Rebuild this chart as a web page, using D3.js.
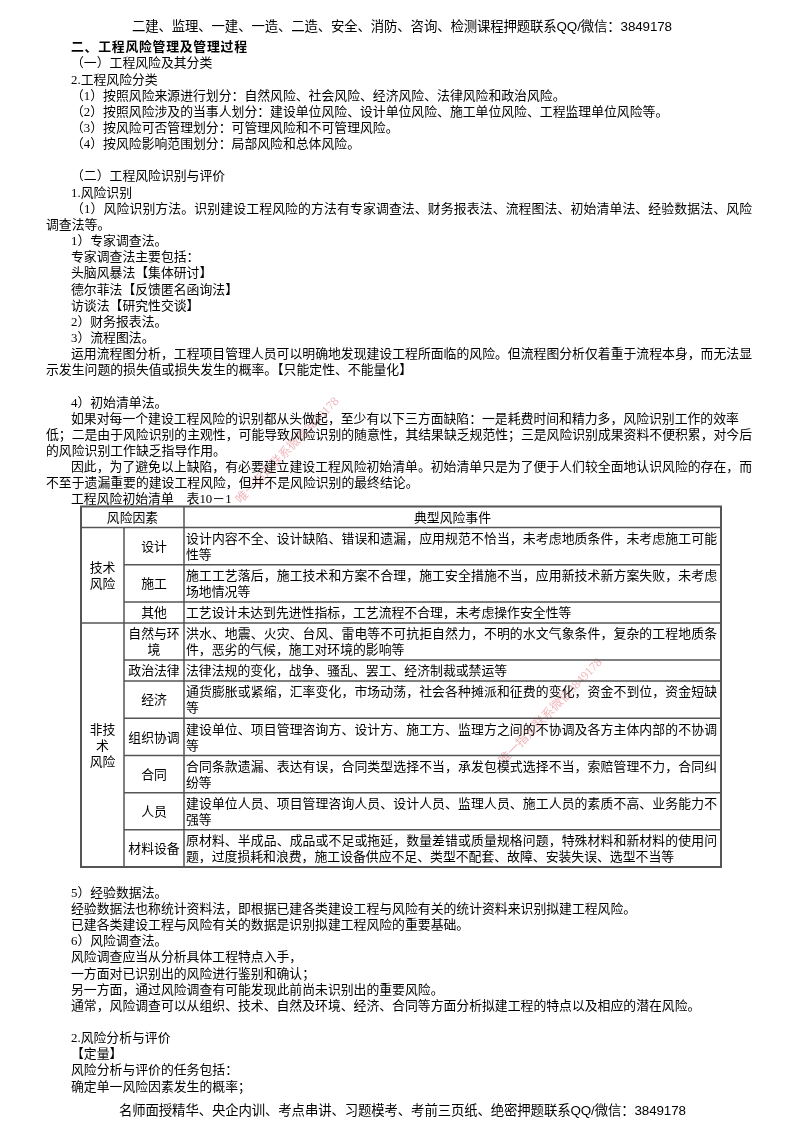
<!DOCTYPE html>
<html lang="zh-CN"><head><meta charset="utf-8">
<style>html,body{margin:0;padding:0;background:#fff}svg{display:block;filter:blur(.42px)}
text{font-family:"Liberation Serif","Noto Sans CJK SC",serif;fill:#000;font-size:12.85px}
.hd{font-family:"Liberation Sans","Noto Sans CJK SC",sans-serif;font-size:13.4px}</style>
<script src="https://cdn.jsdelivr.net/npm/d3@7/dist/d3.min.js"></script></head><body><script>
const headerText="二建、监理、一建、一造、二造、安全、消防、咨询、检测课程押题联系QQ/微信：3849178";
const footerText="名师面授精华、央企内训、考点串讲、习题模考、考前三页纸、绝密押题联系QQ/微信：3849178";
const upperLines=["二、工程风险管理及管理过程","（一）工程风险及其分类","2.工程风险分类","（1）按照风险来源进行划分：自然风险、社会风险、经济风险、法律风险和政治风险。","（2）按照风险涉及的当事人划分：建设单位风险、设计单位风险、施工单位风险、工程监理单位风险等。","（3）按风险可否管理划分：可管理风险和不可管理风险。","（4）按风险影响范围划分：局部风险和总体风险。","","（二）工程风险识别与评价","1.风险识别","（1）风险识别方法。识别建设工程风险的方法有专家调查法、财务报表法、流程图法、初始清单法、经验数据法、风险","调查法等。","1）专家调查法。","专家调查法主要包括：","头脑风暴法【集体研讨】","德尔菲法【反馈匿名函询法】","访谈法【研究性交谈】","2）财务报表法。","3）流程图法。","运用流程图分析，工程项目管理人员可以明确地发现建设工程所面临的风险。但流程图分析仅着重于流程本身，而无法显","示发生问题的损失值或损失发生的概率。【只能定性、不能量化】","","4）初始清单法。","如果对每一个建设工程风险的识别都从头做起，至少有以下三方面缺陷：一是耗费时间和精力多，风险识别工作的效率","低；二是由于风险识别的主观性，可能导致风险识别的随意性，其结果缺乏规范性；三是风险识别成果资料不便积累，对今后","的风险识别工作缺乏指导作用。","因此，为了避免以上缺陷，有必要建立建设工程风险初始清单。初始清单只是为了便于人们较全面地认识风险的存在，而","不至于遗漏重要的建设工程风险，但并不是风险识别的最终结论。","工程风险初始清单　表10－1"];
const lowerLines=["5）经验数据法。","经验数据法也称统计资料法，即根据已建各类建设工程与风险有关的统计资料来识别拟建工程风险。","已建各类建设工程与风险有关的数据是识别拟建工程风险的重要基础。","6）风险调查法。","风险调查应当从分析具体工程特点入手，","一方面对已识别出的风险进行鉴别和确认；","另一方面，通过风险调查有可能发现此前尚未识别出的重要风险。","通常，风险调查可以从组织、技术、自然及环境、经济、合同等方面分析拟建工程的特点以及相应的潜在风险。","","2.风险分析与评价","【定量】","风险分析与评价的任务包括：","确定单一风险因素发生的概率；"];
const flushLeft=new Set(["调查法等。","示发生问题的损失值或损失发生的概率。【只能定性、不能量化】","低；二是由于风险识别的主观性，可能导致风险识别的随意性，其结果缺乏规范性；三是风险识别成果资料不便积累，对今后","的风险识别工作缺乏指导作用。","不至于遗漏重要的建设工程风险，但并不是风险识别的最终结论。"]);
const justified=new Set(["（1）风险识别方法。识别建设工程风险的方法有专家调查法、财务报表法、流程图法、初始清单法、经验数据法、风险","运用流程图分析，工程项目管理人员可以明确地发现建设工程所面临的风险。但流程图分析仅着重于流程本身，而无法显","低；二是由于风险识别的主观性，可能导致风险识别的随意性，其结果缺乏规范性；三是风险识别成果资料不便积累，对今后","因此，为了避免以上缺陷，有必要建立建设工程风险初始清单。初始清单只是为了便于人们较全面地认识风险的存在，而"]);
const tableHeader=["风险因素","典型风险事件"];
const riskGroups=[{name:["技术","风险"],n:3},{name:["非技","术","风险"],n:7}];
const riskFactors=[["设计"],["施工"],["其他"],["自然与环","境"],["政治法律"],["经济"],["组织协调"],["合同"],["人员"],["材料设备"]];
const riskEvents=[
["设计内容不全、设计缺陷、错误和遗漏，应用规范不恰当，未考虑地质条件，未考虑施工可能","性等"],
["施工工艺落后，施工技术和方案不合理，施工安全措施不当，应用新技术新方案失败，未考虑","场地情况等"],
["工艺设计未达到先进性指标，工艺流程不合理，未考虑操作安全性等"],
["洪水、地震、火灾、台风、雷电等不可抗拒自然力，不明的水文气象条件，复杂的工程地质条","件，恶劣的气候，施工对环境的影响等"],
["法律法规的变化，战争、骚乱、罢工、经济制裁或禁运等"],
["通货膨胀或紧缩，汇率变化，市场动荡，社会各种摊派和征费的变化，资金不到位，资金短缺","等"],
["建设单位、项目管理咨询方、设计方、施工方、监理方之间的不协调及各方主体内部的不协调","等"],
["合同条款遗漏、表达有误，合同类型选择不当，承发包模式选择不当，索赔管理不力，合同纠","纷等"],
["建设单位人员、项目管理咨询人员、设计人员、监理人员、施工人员的素质不高、业务能力不","强等"],
["原材料、半成品、成品或不足或拖延，数量差错或质量规格问题，特殊材料和新材料的使用问","题，过度损耗和浪费，施工设备供应不足、类型不配套、故障、安装失误、选型不当等"]];
const watermarkText="唯一指定联系微信3849178";

const svg=d3.select("body").append("svg").attr("width",800).attr("height",1132);
const lineY=d3.scaleLinear().domain([0,1]).range([46.5,62.65]);
const lowerY=d3.scaleLinear().domain([0,1]).range([892,908.15]);
function put(g,t,x,y,o={}){const e=g.append("text").attr("x",x).attr("y",y).attr("dy",".37em").text(t);
 if(o.w){e.attr("textLength",o.w).attr("lengthAdjust","spacing")}
 if(o.anchor)e.attr("text-anchor",o.anchor);if(o.bold)e.attr("font-weight",700);if(o.cls)e.attr("class",o.cls);return e;}
// watermarks, under the text
[[287,450],[550,711]].forEach(([x,y])=>svg.append("text").attr("transform",`translate(${x},${y}) rotate(-46)`)
 .attr("text-anchor","middle").attr("dy",".35em").style("fill","#e8868e").style("font-size","12.4px").attr("opacity",.6).text(watermarkText));
const page=svg.append("g");
put(page,headerText,132,26,{w:540,cls:"hd"});
put(page,footerText,119,1110,{w:567,cls:"hd"});
function body(lines,sc){lines.forEach((t,i)=>{if(!t)return;const x=flushLeft.has(t)?46:71;
 const heading=i===0&&sc===lineY;
 put(page,t,x,sc(i),{w:justified.has(t)?752-x:heading?176:null,bold:heading});});}
body(upperLines,lineY);body(lowerLines,lowerY);
// table
const colX=[81,124,184,721];
const weights=[1].concat(riskEvents.map(r=>r.length===2?1.77:1));
let cum=[0];weights.forEach(w=>cum.push(cum[cum.length-1]+w));
const rowY=d3.scaleLinear().domain([0,cum[cum.length-1]]).range([506.5,867]);
const tb=svg.append("g");
const rows=d3.range(weights.length).map(i=>({top:rowY(cum[i]),bot:rowY(cum[i+1]),i}));
const rule=(x1,y1,x2,y2,w)=>tb.append("line").attr("x1",x1).attr("y1",y1).attr("x2",x2).attr("y2",y2).attr("stroke","#555").attr("stroke-width",w);
rows.forEach(r=>{if(r.i===0)return;const startsGroup=r.i===1||r.i===4;rule(startsGroup?colX[0]:colX[1],r.top,colX[3],r.top,1.5);});
rule(colX[1],rows[1].top,colX[1],rows[10].bot,1.5);rule(colX[2],rows[0].top,colX[2],rows[10].bot,1.5);
tb.append("rect").attr("x",colX[0]).attr("y",rows[0].top).attr("width",colX[3]-colX[0]).attr("height",rows[10].bot-rows[0].top).attr("fill","none").attr("stroke","#555").attr("stroke-width",2);
const mid=r=>(r.top+r.bot)/2;
put(tb,tableHeader[0],(colX[0]+colX[2])/2,mid(rows[0]),{anchor:"middle"});
put(tb,tableHeader[1],(colX[2]+colX[3])/2,mid(rows[0]),{anchor:"middle"});
let s=1;riskGroups.forEach(g=>{const c=(rows[s].top+rows[s+g.n-1].bot)/2;
 g.name.forEach((t,k)=>put(tb,t,(colX[0]+colX[1])/2,c+(k-(g.name.length-1)/2)*16.15,{anchor:"middle"}));s+=g.n;});
riskEvents.forEach((ls,i)=>{const r=rows[i+1],c=mid(r);
 riskFactors[i].forEach((t,k)=>put(tb,t,(colX[1]+colX[2])/2,c+(k-(riskFactors[i].length-1)/2)*16.15,{anchor:"middle"}));
 ls.forEach((t,k)=>put(tb,t,186,c+(k-(ls.length-1)/2)*16.15,{w:ls.length===2&&k===0?531:null}));});
</script></body></html>
